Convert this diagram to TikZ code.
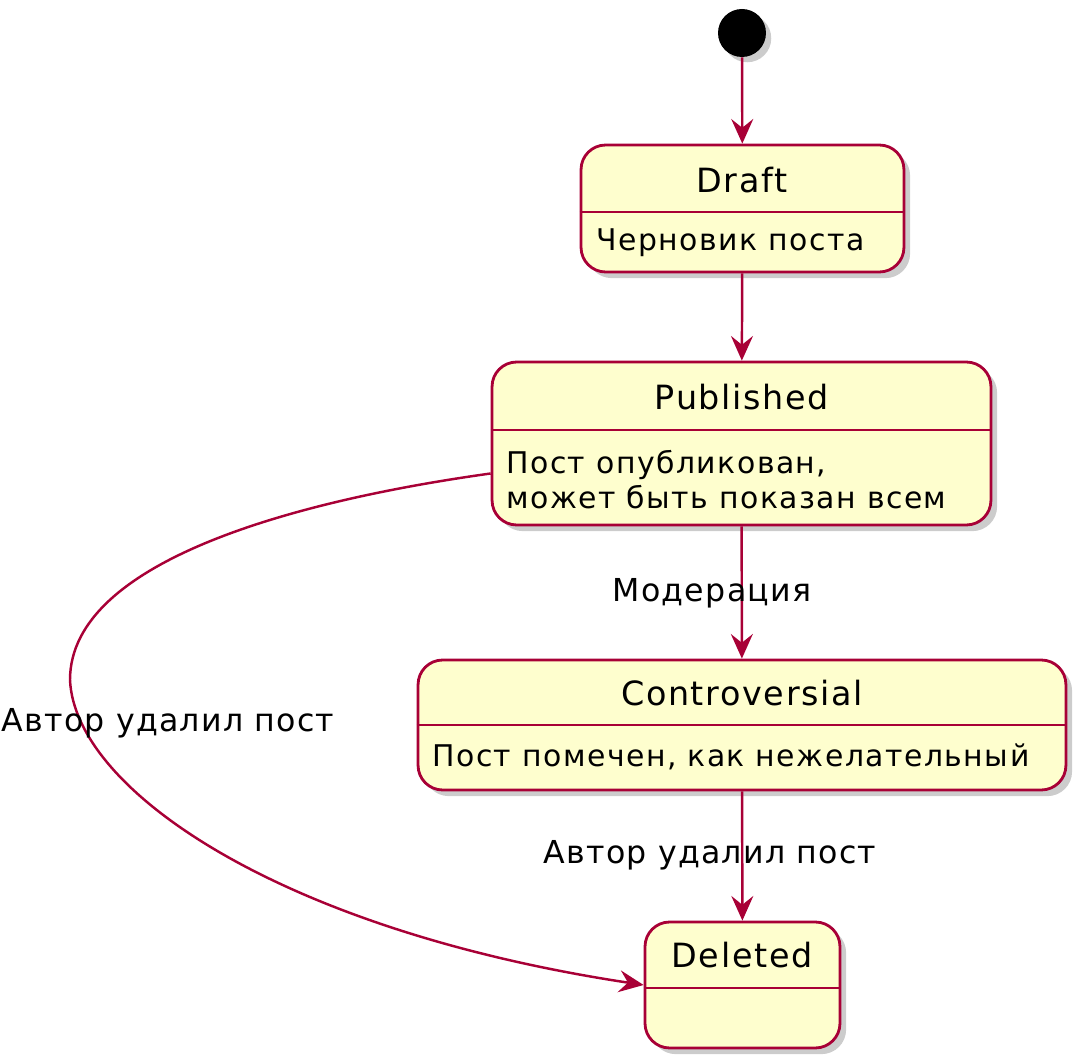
\documentclass[tikz,border=0pt]{standalone}
\usepackage{fontspec}
\setmainfont{DejaVu Sans}
\newfontfamily\spaced[LetterSpace=5]{DejaVu Sans}
\newfontfamily\spacedl[LetterSpace=4]{DejaVu Sans}
\usetikzlibrary{arrows.meta,shadows}
\definecolor{pumlred}{HTML}{A80036}
\definecolor{pumlfill}{HTML}{FEFECE}
\begin{document}
\begin{tikzpicture}[x=0.02cm,y=-0.02cm,
  state/.style={draw=pumlred,line width=1.6pt,fill=pumlfill,rounded corners=14pt,
    drop shadow={shadow xshift=3.5pt,shadow yshift=-3.5pt,fill=black!40},inner sep=0pt},
  ttl/.style={font=\spaced\fontsize{19}{23}\selectfont},
  body/.style={font=\spaced\fontsize{17}{20}\selectfont,anchor=west,align=left,inner sep=0pt},
  lbl/.style={font=\spacedl\fontsize{18}{21}\selectfont},
  tr/.style={draw=pumlred,line width=1.4pt,-{Stealth[length=14pt,width=12.5pt,inset=5pt]}}]
				\useasboundingbox (0,0) rectangle (1080,1060);
				\node[circle,fill=black,minimum size=0.96cm,inner sep=0pt,
				  drop shadow={shadow xshift=3pt,shadow yshift=-3pt,fill=black!40}] (start) at (742,33) {};
				\node[state,minimum width=6.46cm,minimum height=2.54cm] (draft) at (742.5,208.5) {};
				\node[state,minimum width=9.98cm,minimum height=3.26cm] (pub) at (741.5,443.5) {};
				\node[state,minimum width=12.96cm,minimum height=2.6cm] (contr) at (742,725) {};
				\node[state,minimum width=3.9cm,minimum height=2.52cm] (del) at (742.5,985) {};
				% separators
				\draw[pumlred,line width=1.6pt] (draft.west |- 0,212) -- (draft.east |- 0,212);
				\draw[pumlred,line width=1.6pt] (pub.west |- 0,430) -- (pub.east |- 0,430);
				\draw[pumlred,line width=1.6pt] (contr.west |- 0,725) -- (contr.east |- 0,725);
				\draw[pumlred,line width=1.6pt] (del.west |- 0,988) -- (del.east |- 0,988);
				% titles and texts
				\node[ttl] (draftT) at (742,180) {Draft};
				\node[ttl] (pubT) at (742,397) {Published};
				\node[ttl] (contrT) at (742,693) {Controversial};
				\node[ttl] (delT) at (742,955) {Deleted};
				\node[body] (draftB) at (596,243) {Черновик поста};
				\node[body] (pubB) at (506,479.5) {Пост опубликован,\\может быть показан всем};
				\node[body] (contrB) at (432,757) {Пост помечен, как нежелательный};
				% transitions
				\draw[tr] (start) -- (draft);
				\draw[tr] (draft) -- (pub);
				\draw[tr] (pub) -- (contr);
				\draw[tr] (contr) -- (del);
				\draw[tr] ([yshift=-0.6cm]pub.west) .. controls (300,500) and (70,560) .. (70,680)
				  .. controls (75,790) and (280,930) .. (del.west);
				\node[lbl] (l1) at (712,593) {Модерация};
				\node[lbl] (l2) at (710,855) {Автор удалил пост};
				\node[lbl] (l3) at (168,723) {Автор удалил пост};
			\end{tikzpicture}
\end{document}
